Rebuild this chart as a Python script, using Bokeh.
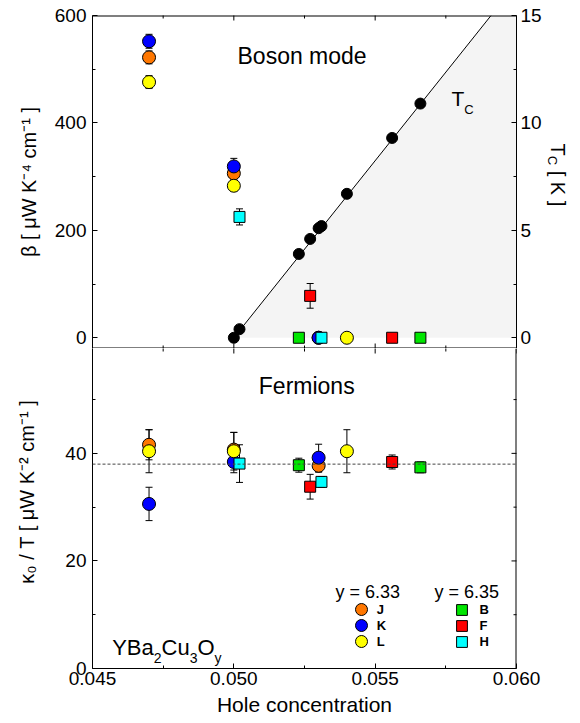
import numpy as np
from bokeh.plotting import figure
from bokeh.layouts import column, row
from bokeh.models import (Range1d, LinearAxis, FixedTicker, PrintfTickFormatter,
                          Label, Legend, LegendItem, Span)
from bokeh.embed import file_html
from bokeh.resources import INLINE

# ---------------- data ----------------
# y = 6.33 samples (circles)
J_p = [0.0470, 0.0500, 0.0530]
J_beta = [522, 306, 0]
J_beta_err = [12, 12, 0]
J_kappa = [41.6, 40.7, 37.7]
J_kappa_err = [2.8, 3.2, 1.2]

K_p = [0.0470, 0.0500, 0.0530]
K_beta = [552, 319, 0]
K_beta_err = [13, 15, 0]
K_kappa = [30.6, 38.4, 39.2]
K_kappa_err = [3.1, 2.0, 2.5]

L_p = [0.0470, 0.0500, 0.0540]
L_beta = [476, 283, 0]
L_beta_err = [12, 10, 0]
L_kappa = [40.4, 40.4, 40.4]
L_kappa_err = [4.0, 3.5, 4.0]

# y = 6.35 samples (squares)
B_p = [0.0523, 0.0566]
B_beta = [0, 0]
B_beta_err = [0, 0]
B_kappa = [37.8, 37.4]
B_kappa_err = [1.3, 1.0]

F_p = [0.0527, 0.0556]
F_beta = [78, 0]
F_beta_err = [23, 0]
F_kappa = [33.8, 38.4]
F_kappa_err = [2.3, 1.3]

H_p = [0.0502, 0.0531]
H_beta = [225, 0]
H_beta_err = [15, 0]
H_kappa = [38.1, 34.7]
H_kappa_err = [3.5, 1.0]

# Tc (right axis of the upper panel)
Tc_p = [0.0500, 0.0502, 0.0523, 0.0527, 0.0530, 0.0531, 0.0540, 0.0556, 0.0566]
Tc_K = [0.0, 0.4, 3.9, 4.6, 5.1, 5.2, 6.7, 9.3, 10.9]
Tc_fit_p = [0.0500, 0.0591]
Tc_fit_K = [0.0, 15.0]

kappa_mean = 38.0

x_ticks = [0.045, 0.050, 0.055, 0.060]
x_minor = [0.0475, 0.0525, 0.0575]
beta_ticks = [0, 200, 400, 600]
beta_minor = [100, 300, 500]
tc_ticks = [0, 5, 10, 15]
tc_minor = [2.5, 7.5, 12.5]
kappa_ticks = [0, 20, 40]
kappa_minor = [10, 30, 50]

samples = [
    ("J", "circle", "#ff7700", J_p, J_beta, J_beta_err, J_kappa, J_kappa_err),
    ("K", "circle", "#0000ff", K_p, K_beta, K_beta_err, K_kappa, K_kappa_err),
    ("L", "circle", "#ffff00", L_p, L_beta, L_beta_err, L_kappa, L_kappa_err),
    ("B", "square", "#00e600", B_p, B_beta, B_beta_err, B_kappa, B_kappa_err),
    ("F", "square", "#ff0000", F_p, F_beta, F_beta_err, F_kappa, F_kappa_err),
    ("H", "square", "#00ffff", H_p, H_beta, H_beta_err, H_kappa, H_kappa_err),
]

FONT = "Liberation Sans"
ADV = {"Y": .667, "B": .667, "a": .556, "2": .556, "C": .722, "u": .556, "3": .556,
       "O": .778, "y": .5, "T": .611, " ": .278, "[": .278, "]": .278, "K": .667}


def tw(s, size):
    return sum(ADV.get(c, 0.556) for c in s) * size


def style_axis(ax, size="19px", standoff=6):
    ax.major_tick_in = 5
    ax.major_tick_out = 0
    ax.minor_tick_in = 3
    ax.minor_tick_out = 0
    ax.major_tick_line_color = "black"
    ax.minor_tick_line_color = "black"
    ax.axis_line_color = "black"
    ax.major_label_text_font = FONT
    ax.major_label_text_color = "black"
    ax.major_label_text_font_size = size
    ax.major_label_standoff = standoff
    ax.axis_label_text_font = FONT
    ax.axis_label_text_font_size = "20px"
    ax.axis_label_text_font_style = "normal"
    ax.axis_label_text_color = "black"
    return ax


def lab(p, x, y, text, size, **kw):
    p.add_layout(Label(x=x, y=y, x_units="screen", y_units="screen", text=text,
                       text_font=FONT, text_font_size=f"{size}px", text_color="black",
                       text_baseline=kw.pop("baseline", "alphabetic"), **kw))


def edge_ticks(p, vals, minor, fixed, horizontal_edge, y_range_name="default"):
    """Inward tick marks on an unlabeled frame edge (half of each dash is clipped)."""
    ang = np.pi / 2 if horizontal_edge else 0.0
    for v, sz in ((vals, 10), (minor, 6)):
        if horizontal_edge:
            xs, ys = list(v), [fixed] * len(v)
        else:
            xs, ys = [fixed] * len(v), list(v)
        p.scatter(xs, ys, marker="dash", angle=ang, size=sz, line_color="black",
                  line_width=1, y_range_name=y_range_name)


x_range = Range1d(0.045, 0.060)

# ---------------- upper panel ----------------
p1 = figure(frame_width=424, frame_height=333, x_range=x_range, y_range=Range1d(-20, 600),
            output_backend="svg", toolbar_location=None,
            x_axis_location=None, y_axis_location=None,
            min_border_left=92, min_border_right=26, min_border_top=15, min_border_bottom=0,
            outline_line_color=None, background_fill_color="white", border_fill_color="white")
p1.extra_y_ranges = {"tc": Range1d(-0.5, 15)}
p1.grid.visible = False

ax = style_axis(LinearAxis(ticker=FixedTicker(ticks=beta_ticks, minor_ticks=beta_minor)))
ax.axis_label = "β [ μW K⁻⁴ cm⁻¹ ]"
ax.axis_label_standoff = 12
p1.add_layout(ax, "left")
ax = style_axis(LinearAxis(ticker=FixedTicker(ticks=tc_ticks, minor_ticks=tc_minor),
                           y_range_name="tc"), standoff=4)
p1.add_layout(ax, "right")

# shaded superconducting region below Tc line
p1.patch(Tc_fit_p + [x_range.end, x_range.end], Tc_fit_K + [Tc_fit_K[-1], 0.0],
         y_range_name="tc", fill_color="#f4f4f4", line_color=None)
p1.line(Tc_fit_p, Tc_fit_K, y_range_name="tc", line_color="black", line_width=1)

# frame edges (top / bottom) and their inward ticks
yr1 = p1.y_range
p1.line([x_range.start, x_range.end], [yr1.end, yr1.end], line_color="black", line_width=2)
p1.line([x_range.start, x_range.end], [yr1.start, yr1.start], line_color="black", line_width=2)
edge_ticks(p1, x_ticks, x_minor, yr1.end, True)
edge_ticks(p1, x_ticks, x_minor, yr1.start, True)

p1.scatter(Tc_p, Tc_K, y_range_name="tc", marker="circle", size=11,
           fill_color="black", line_color="black")


def draw_errors(p, xs, ys, es):
    sel = [(x, y, e) for x, y, e in zip(xs, ys, es) if e > 0]
    if not sel:
        return
    X = [s[0] for s in sel]
    lo = [s[1] - s[2] for s in sel]
    hi = [s[1] + s[2] for s in sel]
    p.segment(x0=X, y0=lo, x1=X, y1=hi, line_color="black", line_width=1)
    p.scatter(X + X, lo + hi, marker="dash", size=7, line_color="black", line_width=1)


for name, mk, col, px, b, be, k, ke in samples:
    draw_errors(p1, px, b, be)
for name, mk, col, px, b, be, k, ke in samples:
    p1.scatter(px, b, marker=mk, size=13 if mk == "circle" else 11,
               fill_color=col, line_color="black", line_width=1)

lab(p1, 145, 293, "Boson mode", 23)
lab(p1, 359, 249.7, "T", 21)
lab(p1, 359 + tw("T", 21), 238.7, "C", 13)

# ---------------- narrow strip holding the right-axis title  T_C [ K ] ----------------
pR = figure(width=36, height=348, x_range=Range1d(0, 1), y_range=Range1d(0, 1),
            output_backend="svg", toolbar_location=None,
            x_axis_location=None, y_axis_location=None, min_border=0,
            outline_line_color=None, background_fill_color="white", border_fill_color="white")
pR.grid.visible = False
ry = 205.0
lab(pR, 13, ry, "T", 20, angle=-np.pi / 2)
ry -= tw("T", 20)
lab(pR, 8, ry, "C", 13, angle=-np.pi / 2)
ry -= tw("C", 13) + tw(" ", 20)
lab(pR, 13, ry, "[ K ]", 20, angle=-np.pi / 2)

# ---------------- lower panel ----------------
p2 = figure(frame_width=424, frame_height=320, x_range=x_range, y_range=Range1d(0, 59.5),
            output_backend="svg", toolbar_location=None,
            x_axis_location=None, y_axis_location=None,
            min_border_left=92, min_border_right=62, min_border_top=0, min_border_bottom=54,
            outline_line_color=None, background_fill_color="white", border_fill_color="white")
p2.grid.visible = False

ax = style_axis(LinearAxis(ticker=FixedTicker(ticks=kappa_ticks, minor_ticks=kappa_minor)))
ax.axis_label = "\u00a0" * 6 + "κ₀ / T [ μW K⁻² cm⁻¹ ]"
ax.axis_label_standoff = 24
p2.add_layout(ax, "left")
ax = style_axis(LinearAxis(ticker=FixedTicker(ticks=x_ticks, minor_ticks=x_minor),
                           formatter=PrintfTickFormatter(format="%.3f")), standoff=3)
ax.axis_label = "Hole concentration"
ax.axis_label_text_font_size = "21px"
ax.axis_label_standoff = 5
p2.add_layout(ax, "below")

yr2 = p2.y_range
p2.line([x_range.end, x_range.end], [yr2.start, yr2.end], line_color="black", line_width=2)
edge_ticks(p2, x_ticks, x_minor, yr2.end, True)
edge_ticks(p2, kappa_ticks, kappa_minor, x_range.end, False)

p2.add_layout(Span(location=kappa_mean, dimension="width", line_color="#444444",
                   line_width=1, line_dash="3 2"))

for name, mk, col, px, b, be, k, ke in samples:
    draw_errors(p2, px, k, ke)
rends = {}
for name, mk, col, px, b, be, k, ke in samples:
    rends[name] = p2.scatter(px, k, marker=mk, size=13 if mk == "circle" else 11,
                             fill_color=col, line_color="black", line_width=1)

lab(p2, 166.3, 283, "Fermions", 23)

# legends: one single-row legend per sample so rows can sit close together
common = dict(padding=0, margin=0, border_line_color=None, background_fill_alpha=0,
              label_text_font=FONT, label_text_font_size="13px",
              label_text_font_style="bold", label_text_color="black", spacing=0)
row_centers = [59, 43, 27]
for names, lx, g, so in ((["J", "K", "L"], 253.7, 30, 1), (["B", "F", "H"], 355.5, 27, 5)):
    for n, cy in zip(names, row_centers):
        p2.add_layout(Legend(items=[LegendItem(label=n, renderers=[rends[n]])],
                             location=(lx, cy - g / 2), glyph_width=g, glyph_height=g,
                             label_height=g, label_standoff=so, **common))
lab(p2, 243, 76.3, "y = 6.33", 18)
lab(p2, 342, 76.3, "y = 6.35", 18)

# YBa2Cu3Oy composite label
pieces = [("YBa", 22, 0), ("2", 14, -11), ("Cu", 22, 0), ("3", 14, -11), ("O", 22, 0), ("y", 14, -11)]
cx = 19.7
for s, fs, dy in pieces:
    lab(p2, cx, 21.3 + dy, s, fs)
    cx += tw(s, fs)

layout = column(row(p1, pR), p2)
open("out.html", "w").write(file_html(layout, INLINE))
